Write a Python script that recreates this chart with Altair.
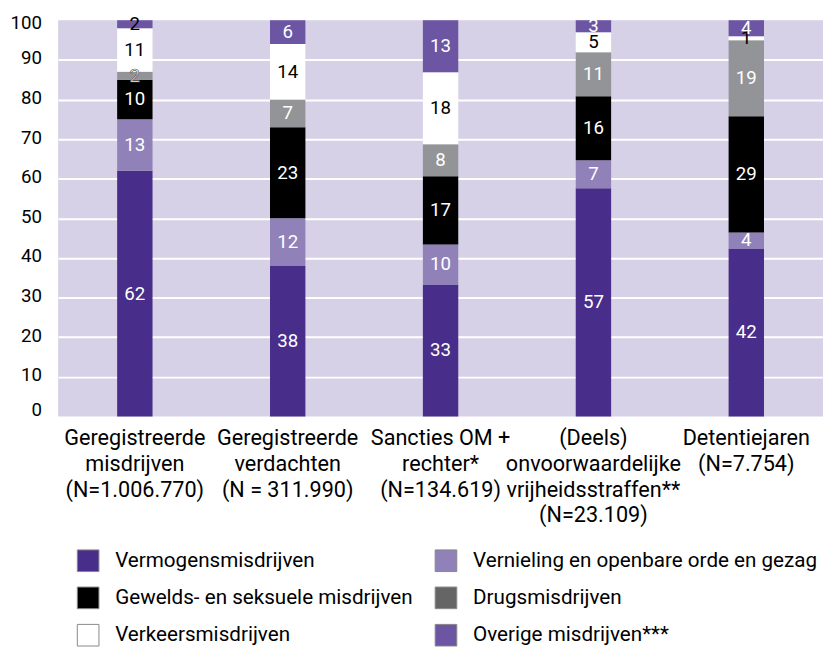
import altair as alt
import pandas as pd

categories = [
    "Geregistreerde\nmisdrijven\n(N=1.006.770)",
    "Geregistreerde\nverdachten\n(N = 311.990)",
    "Sancties OM +\nrechter*\n(N=134.619)",
    "(Deels)\nonvoorwaardelijke\nvrijheidsstraffen**\n(N=23.109)",
    "Detentiejaren\n(N=7.754)",
]
crime_types = [
    "Vermogensmisdrijven",
    "Vernieling en openbare orde en gezag",
    "Gewelds- en seksuele misdrijven",
    "Drugsmisdrijven",
    "Verkeersmisdrijven",
    "Overige misdrijven***",
]
vermogens = [62, 38, 33, 57, 42]
vernieling = [13, 12, 10, 7, 4]
gewelds = [10, 23, 17, 16, 29]
drugs = [2, 7, 8, 11, 19]
verkeers = [11, 14, 18, 5, 1]
overige = [2, 6, 13, 3, 4]
y_ticks = [0, 10, 20, 30, 40, 50, 60, 70, 80, 90, 100]

bar_colors = ["#482d8a", "#9181b9", "#000000", "#939497", "#ffffff", "#6c55a3"]
legend_colors = ["#482d8a", "#9181b9", "#000000", "#656565", "#ffffff", "#6c55a3"]

series = [vermogens, vernieling, gewelds, drugs, verkeers, overige]
rows = []
for ti, (t, vals) in enumerate(zip(crime_types, series)):
    for ci, c in enumerate(categories):
        rows.append({"cat": c, "type": t, "value": vals[ci], "order": ti})
df = pd.DataFrame(rows)

LABEL_FONT = "Roboto"

base = (
    alt.Chart(df)
    .transform_stack(
        stack="value",
        groupby=["cat"],
        as_=["y0", "y1"],
        offset="normalize",
        sort=[alt.SortField("order", order="ascending")],
    )
    .transform_calculate(mid="(datum.y0 + datum.y1) / 2")
)

x_enc = alt.X(
    "cat:N",
    sort=categories,
    scale=alt.Scale(paddingInner=0.7685, paddingOuter=0.386),
    axis=alt.Axis(
        title=None,
        labelAngle=0,
        labelExpr="split(datum.label, '\\n')",
        labelLineHeight=26,
        labelFont=LABEL_FONT,
        labelFontSize=22,
        labelPadding=12,
        labelColor="#000000",
        labelLimit=400,
        ticks=False,
        domain=False,
    ),
)

y_axis = alt.Axis(
    title=None,
    values=[v / 100 for v in y_ticks],
    labelExpr="format(datum.value * 100, 'd')",
    labelFont="Roboto",
    labelFontSize=19,
    labelColor="#000000",
    labelPadding=17,
    labelOffset=-2,
    labelFlush=True,
    labelFlushOffset=5,
    ticks=False,
    domain=False,
    grid=True,
    gridColor={
        "condition": {"test": "datum.value <= 0.001 || datum.value >= 0.999", "value": "rgba(0,0,0,0)"},
        "value": "#ffffff",
    },
    gridWidth=2,
)

bars = base.mark_bar().encode(
    x=x_enc,
    y=alt.Y("y0:Q", scale=alt.Scale(domain=[0, 1], nice=False), axis=y_axis),
    y2="y1:Q",
    color=alt.Color("type:N", scale=alt.Scale(domain=crime_types, range=bar_colors), legend=None),
)

texts = (
    base.transform_calculate(
        dark="datum.type == 'Verkeersmisdrijven' || (datum.type == 'Overige misdrijven***' && datum.value < 3)",
        outline="datum.type == 'Drugsmisdrijven' && datum.value < 3",
    )
    .mark_text(font="Roboto", fontSize=19, baseline="middle", align="center", stroke="#555555")
    .encode(
        x=alt.X("cat:N", sort=categories),
        y=alt.Y("mid:Q"),
        text=alt.Text("value:Q"),
        color=alt.condition("datum.dark", alt.value("#000000"), alt.value("#ffffff")),
        strokeWidth=alt.condition("datum.outline", alt.value(0.7), alt.value(0)),
    )
)

# Legend-only layer: no rows drawn, the explicit scale domain drives the legend entries
legend_layer = (
    alt.Chart(df)
    .transform_filter("false")
    .mark_square(size=484, opacity=1, filled=True)
    .encode(
        x=alt.value(0),
        y=alt.value(0),
        fill=alt.Fill(
            "type:N",
            scale=alt.Scale(domain=crime_types, range=legend_colors),
            legend=alt.Legend(
                title=None,
                orient="none",
                direction="horizontal",
                legendX=19,
                legendY=538,
                columns=2,
                symbolType="square",
                symbolSize=484,
                symbolStrokeWidth=1,
                symbolStrokeColor="#888888",
                labelFont=LABEL_FONT,
                labelFontSize=21,
                labelColor="#000000",
                labelOffset=16,
                labelLimit=500,
                rowPadding=11,
                columnPadding=20,
            ),
        ),
    )
)

chart = (
    alt.layer(legend_layer, bars, texts)
    .properties(
        width=778,
        height=403,
        autosize=alt.AutoSizeParams(type="none"),
        padding={"left": 51, "top": 7, "right": 0, "bottom": 229},
    )
    .configure_view(stroke=None, fill="#d6d1e6")
)

chart.save("out.html", embed_options={"renderer": "svg", "actions": False})
